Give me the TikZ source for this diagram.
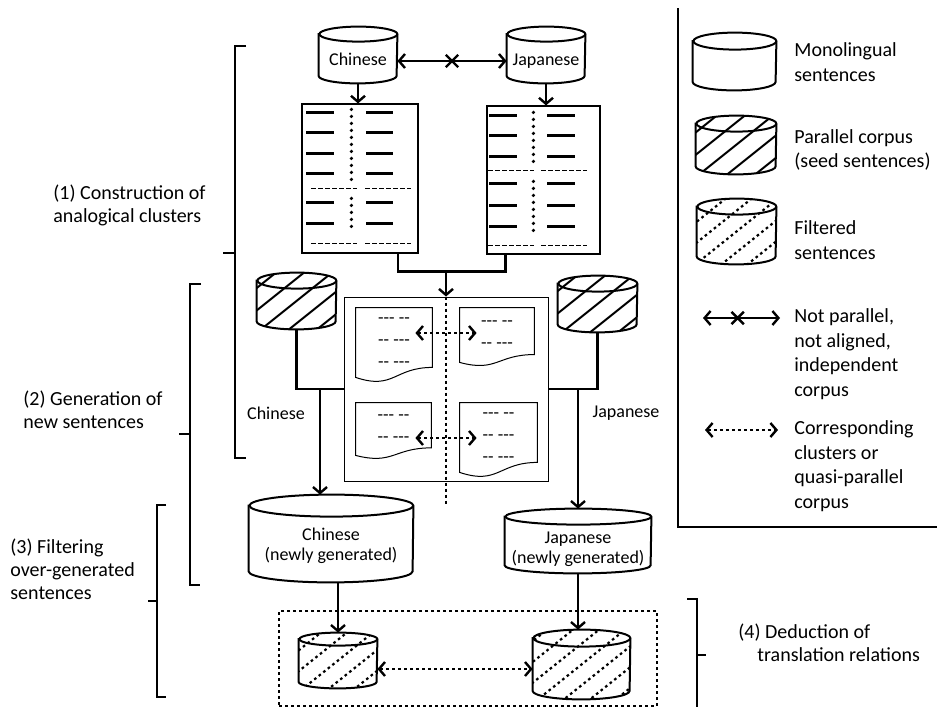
\documentclass[tikz,border=0pt]{standalone}
\usepackage{fontspec}
\setmainfont{Carlito}
\usetikzlibrary{positioning,arrows.meta,calc,shapes.misc}
% text of a cylinder, lowered below its lid
\newcommand{\dbtext}[2]{\raisebox{#1}[0pt][0pt]{\begin{tabular}{@{}c@{}}#2\end{tabular}}}
% outline of a cylinder round node #1: half width #2, lid radius #3 (pt)
\newcommand{\cylshape}[3]{([yshift=-#3pt]#1.north west) -- ([yshift=#3pt]#1.south west)
  arc[start angle=180, end angle=360, x radius=#2pt, y radius=#3pt]
  -- ([yshift=-#3pt]#1.north east)
  arc[start angle=0, end angle=180, x radius=#2pt, y radius=#3pt] -- cycle}
\newcommand{\cyllid}[3]{([yshift=-#3pt]#1.north east)
  arc[start angle=0, end angle=-180, x radius=#2pt, y radius=#3pt]}
\tikzset{
  db/.style    = {rectangle, inner sep=0pt, align=center,
                  font=\fontsize{9}{10}\selectfont},
  dbline/.style= {line width=1pt},
  hatch/.style = {line width=1pt},
  dothatch/.style = {line width=1.1pt, dash pattern=on 1.3pt off 1.6pt},
  sheet/.style = {rectangle, draw, line width=0.6pt, inner sep=0pt},
  doc/.style   = {rectangle, inner sep=0pt, align=left,
                  font=\fontsize{9}{11}\selectfont},
  arr/.style   = {-{Straight Barb[length=3pt,width=7pt]}, line width=1.2pt},
  link/.style  = {line width=1.2pt},
  xarr/.style  = {{Straight Barb[length=3pt,width=7pt]}-{Straight Barb[length=3pt,width=7pt]},
                  line width=1.2pt},
  corr/.style  = {xarr, dash pattern=on 1.5pt off 1.5pt},
  xmark/.style = {cross out, draw, line width=1.2pt, minimum size=5pt, inner sep=0pt},
  bracket/.style = {line width=1pt},
  row/.style   = {line width=1.2pt},
  sep/.style   = {line width=0.9pt, dash pattern=on 2.2pt off 1.3pt},
  dots/.style  = {line width=1.8pt, line cap=round, dash pattern=on 0pt off 3.5pt},
  lab/.style   = {align=left, anchor=west, inner sep=0pt, font=\fontsize{10}{11.5}\selectfont},
  lgtext/.style= {align=left, anchor=west, inner sep=0pt, font=\fontsize{10}{12.3}\selectfont}
}

\begin{document}
\begin{tikzpicture}[x=0.5pt, y=-0.5pt]
  \useasboundingbox (0,0) rectangle (937,707);

  % Monolingual corpora
  \node[db, minimum width=39pt, minimum height=28pt] (chT) at (358,55)
    {\dbtext{-5.65pt}{Chinese}};
  \node[db, minimum width=39pt, minimum height=28pt] (jpT) at (546,55)
    {\dbtext{-5.65pt}{Japanese}};
  \draw[xarr] ([yshift=-3pt]chT.east) -- node[xmark] {} ([yshift=-3pt]jpT.west);

  % Analogical clusters
  \node[sheet, minimum width=58pt, minimum height=74.5pt] (shC) at (360,178.5) {};
  \node[sheet, minimum width=56.5pt, minimum height=74pt] (shJ) at (543.5,180) {};
  \draw[arr] (chT.south) -- (chT.south |- shC.north);
  \draw[arr] (jpT.south) -- (jpT.south |- shJ.north);

  \begin{scope}[shift={(shC.north west)}]
    \foreach \y in {9,29,50,70,99,120} {
      \draw[row] (5,\y) -- (33,\y);
      \draw[row] (65,\y) -- (92,\y);
    }
    \foreach \y in {85,140} {
      \draw[sep] (10,\y) -- (56,\y);
      \draw[sep] (64,\y) -- (110,\y);
    }
    \draw[dots] (50,6) -- (50,78);
    \draw[dots] (50,95) -- (50,126);
  \end{scope}

  \begin{scope}[shift={(shJ.north west)}]
    \foreach \y in {10,30,51,78,100,121} {
      \draw[row] (3,\y) -- (31,\y);
      \draw[row] (61,\y) -- (89,\y);
    }
    \foreach \y in {65,140} {
      \draw[sep] (2,\y) -- (48,\y);
      \draw[sep] (55,\y) -- (101,\y);
    }
    \draw[dots] (47,7) -- (47,57);
    \draw[dots] (47,76) -- (47,127);
  \end{scope}

  % Corresponding clusters
  \node[sheet, line width=0.5pt, minimum width=102pt, minimum height=92pt] (mid) at (446,389) {};
  \draw[link] ([xshift=19pt]shC.south) |- ([yshift=12.5pt]mid.north) -| ([xshift=-19pt]shJ.south);
  \draw[arr] ([yshift=12.5pt]mid.north) -- (mid.north);
  \draw[line width=1pt, dash pattern=on 1.5pt off 1.5pt] (mid.north) -- ([yshift=-11pt]mid.south);

  \node[doc, minimum width=38pt, minimum height=34.5pt] (dTL) at (394,342.5)
    {-{}-{}- -{}-\\-{}- -{}-{}-\\-{}- -{}-{}-};
  \node[doc, minimum width=37pt, minimum height=27pt] (dTR) at (497,335)
    {-{}-{}- -{}-\\-{}- -{}-{}-};
  \node[doc, minimum width=37.5pt, minimum height=26pt] (dBL) at (393.5,429)
    {-{}-{}- -{}-\\-{}- -{}-{}-};
  \node[doc, minimum width=38.5pt, minimum height=34.5pt] (dBR) at (498.5,437.5)
    {-{}-{}- -{}-\\-{}- -{}-{}-\\-{}- -{}-{}-};
  \foreach \d in {dTL,dTR,dBL,dBR}
    \draw[line width=0.5pt] (\d.north west) -- (\d.north east)
      -- ($(\d.north east)!0.857!(\d.south east)$)
      .. controls ($(\d.north)!0.857!(\d.south)$) and ($(\d.north)!1.185!(\d.south)$)
      .. (\d.south west) -- cycle;
  \draw[corr] ([shift={(-17,-9.5)}]dTL.east) -- ([shift={(17,-2)}]dTR.west);
  \draw[corr] ([shift={(-16,9)}]dBL.east) -- ([shift={(17,0.5)}]dBR.west);

  % Seed sentences
  \node[db, minimum width=39.5pt, minimum height=28pt] (seedC) at (296.5,301) {};
  \node[db, minimum width=39.5pt, minimum height=28pt] (seedJ) at (597.5,304) {};
  \draw[link] (seedC.south) |- (mid.west);
  \draw[link] (seedJ.south) |- (mid.east);
  \coordinate (jC) at (320,389);
  \coordinate (jJ) at (578,389);
  \node[font=\fontsize{9}{10}\selectfont] (lC) at (276,413) {Chinese};
  \node[font=\fontsize{9}{10}\selectfont] (lJ) at (626,413) {Japanese};

  % Newly generated
  \node[db, minimum width=82pt, minimum height=43.5pt] (chnew) at (331,538.5)
    {\dbtext{-6.4pt}{Chinese\\(newly generated)}};
  \node[db, minimum width=73pt, minimum height=32pt] (jpnew) at (578,541)
    {\dbtext{-6.65pt}{Japanese\\(newly generated)}};
  \draw[arr] (jC) -- (jC |- chnew.north);
  \draw[arr] (jJ) -- (jJ |- jpnew.north);

  % Filtered sentences
  \node[draw, line width=0.7pt, dash pattern=on 1.5pt off 1.5pt, inner sep=0pt,
        minimum width=189pt, minimum height=47.5pt] (ded) at (468,658.5) {};
  \node[db, minimum width=39pt, minimum height=27.5pt] (fC) at (338,660.5) {};
  \node[db, minimum width=48.5pt, minimum height=34.5pt] (fJ) at (581.5,664.5) {};
  \draw[arr] (fC.north |- chnew.south) -- (fC.north);
  \draw[arr] (jpnew.south) -- (jpnew.south |- fJ.north);
  \draw[corr] ([yshift=-4.25pt]fC.east) -- ([yshift=-2.25pt]fJ.west);

  % Steps
  \draw[bracket] (246,46) -- (235,46) -- (235,458) -- (246,458);
  \draw[bracket] (235,253) -- (223,253);
  \node[lab] (st1) at (53,205) {(1) Construction of\\analogical clusters};
  \draw[bracket] (201,284) -- (190,284) -- (190,585) -- (200,585);
  \draw[bracket] (190,434) -- (179,434);
  \node[lab] (st2) at (23,410) {(2) Generation of\\new sentences};
  \draw[bracket] (166,505) -- (157,505) -- (157,697) -- (166,697);
  \draw[bracket] (157,601) -- (148,601);
  \node[lab] (st3) at (10,569) {(3) Filtering\\over-generated\\sentences};
  \draw[bracket] (687,599) -- (697,599) -- (697,707);
  \draw[bracket] (697,655) -- (706,655);
  \node[lab] (st4) at (738,643) {(4) Deduction of\\\hspace*{9.5pt}translation relations};

  % Legend
  \draw[line width=0.7pt] (678,8) |- (937,527);
  \node[db, minimum width=41.5pt, minimum height=28.5pt] (lgMono) at (734.5,61.5) {};
  \node[db, minimum width=40pt, minimum height=29pt] (lgPar) at (736,145) {};
  \node[db, minimum width=39.5pt, minimum height=32.5pt] (lgFil) at (736.5,231.5) {};
  \coordinate (lgXa) at (703,318);
  \coordinate (lgXb) at (780,318);
  \draw[xarr] (lgXa) -- node[xmark, pos=0.45] {} (lgXb);
  \coordinate (lgCa) at (705,430);
  \coordinate (lgCb) at (778,430);
  \draw[corr] (lgCa) -- (lgCb);
  \node[lgtext] (txMono) at (794,62) {Monolingual\\sentences};
  \node[lgtext] (txPar) at (794,150) {Parallel corpus\\(seed sentences)};
  \node[lgtext] (txFil) at (794,240) {Filtered\\sentences};
  \node[lgtext] (txX) at (794,354) {Not parallel,\\not aligned,\\independent\\corpus};
  \node[lgtext] (txC) at (794,466) {Corresponding\\clusters or\\quasi-parallel\\corpus};

  % Cylinders: hatching, then outlines
  \foreach \cn/\hw/\ry in {seedC/19.75/4, seedJ/19.75/4, lgPar/20/4} {
    \begin{scope}
      \clip \cylshape{\cn}{\hw}{\ry};
      \foreach \k in {-112,-84,...,112}
        \draw[hatch] ($(\cn.center)+(\k-60,48)$) -- ++(120,-96);
    \end{scope}
  }
  \foreach \cn/\hw/\ry in {fC/19.5/3.25, fJ/24.25/4.25, lgFil/19.75/4} {
    \begin{scope}
      \clip \cylshape{\cn}{\hw}{\ry};
      \foreach \k in {-104,-78,...,104}
        \draw[dothatch] ($(\cn.center)+(\k-60,48)$) -- ++(120,-96);
    \end{scope}
  }
  \foreach \cn/\hw/\ry in {chT/19.5/3.75, jpT/19.5/3.75, seedC/19.75/4, seedJ/19.75/4,
                           chnew/41/5.5, jpnew/36.5/4, fC/19.5/3.25, fJ/24.25/4.25,
                           lgMono/20.75/4.25, lgPar/20/4, lgFil/19.75/4} {
    \draw[dbline] \cylshape{\cn}{\hw}{\ry};
    \draw[dbline] \cyllid{\cn}{\hw}{\ry};
  }
\end{tikzpicture}
\end{document}
